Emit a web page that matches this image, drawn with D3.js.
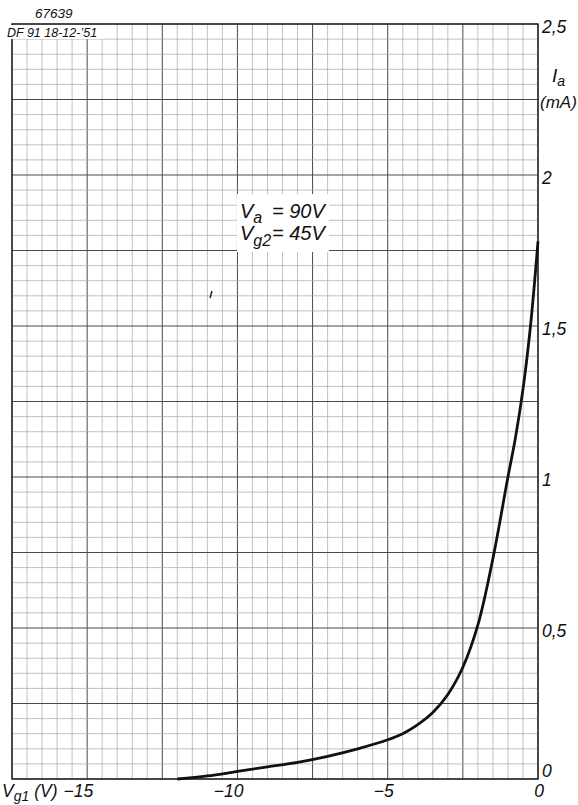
<!DOCTYPE html>
<html>
<head>
<meta charset="utf-8">
<script src="https://cdn.jsdelivr.net/npm/d3@7"></script>
<style>
  body { margin: 0; background: #fff; }
  text { font-family: 'Liberation Sans', 'DejaVu Sans', sans-serif; font-style: italic; fill: #111; }
</style>
</head>
<body>
<div id="chart"></div>
<script>
// curve: grid voltage (V) vs anode current (mA)
const vg1 = [-12, -11, -10, -9, -8, -7, -6, -5, -4.5, -4, -3.5, -3, -2.5, -2, -1.5, -1, -0.75, -0.5, -0.25, 0];
const ia  = [0, 0.01, 0.025, 0.04, 0.055, 0.075, 0.1, 0.13, 0.15, 0.18, 0.22, 0.28, 0.37, 0.51, 0.73, 1.0, 1.13, 1.29, 1.5, 1.78];

const xTicks = [-15, -10, -5, 0];
const xTickLabels = ['\u221215', '\u221210', '\u22125', '0'];
const yTicks = [0, 0.5, 1, 1.5, 2, 2.5];
const yTickLabels = ['0', '0,5', '1', '1,5', '2', '2,5'];

const width = 578;
const height = 805;
const margin = { top: 24, right: 40, bottom: 26, left: 12 };

const svg = d3.select('#chart')
  .append('svg')
  .attr('width', width)
  .attr('height', height);

const x = d3.scaleLinear()
  .domain([-17.5, 0])
  .range([margin.left, width - margin.right]);

const y = d3.scaleLinear()
  .domain([0, 2.5])
  .range([height - margin.bottom, margin.top]);

// graph paper: fine lines every 0.5 V / 0.05 mA, heavier every 2.5 V / 0.25 mA
const vLines = d3.range(-17.5, 0.001, 0.5);
const hLines = d3.range(0, 2.501, 0.05);
const isMajor = (v, step) => Math.abs(v / step - Math.round(v / step)) < 1e-6;

const grid = svg.append('g');
grid.selectAll('line.v')
  .data(vLines)
  .join('line')
  .attr('x1', d => x(d)).attr('x2', d => x(d))
  .attr('y1', y(0)).attr('y2', y(2.5))
  .attr('stroke', d => isMajor(d, 2.5) ? '#4a4a4a' : '#a6a6a6')
  .attr('stroke-width', d => isMajor(d, 2.5) ? 1 : 0.7);

grid.selectAll('line.h')
  .data(hLines)
  .join('line')
  .attr('x1', x(-17.5)).attr('x2', x(0))
  .attr('y1', d => y(d)).attr('y2', d => y(d))
  .attr('stroke', d => isMajor(d, 0.25) ? '#4a4a4a' : '#a6a6a6')
  .attr('stroke-width', d => isMajor(d, 0.25) ? 1 : 0.7);

// frame
svg.append('rect')
  .attr('x', x(-17.5)).attr('y', y(2.5))
  .attr('width', x(0) - x(-17.5)).attr('height', y(0) - y(2.5))
  .attr('fill', 'none')
  .attr('stroke', '#222')
  .attr('stroke-width', 1.4);

// stamp top left
svg.append('text')
  .attr('x', 35).attr('y', 18)
  .style('font-size', '13.5px')
  .text('67639');

svg.append('rect')
  .attr('x', x(-17.5) - 4).attr('y', y(2.5) + 1)
  .attr('width', 96).attr('height', 14)
  .attr('fill', '#fff');
svg.append('text')
  .attr('x', 7).attr('y', 37)
  .style('font-size', '12.5px')
  .text("DF 91  18-12-\u201951");

// operating conditions
svg.append('rect')
  .attr('x', 237).attr('y', 194)
  .attr('width', 92).attr('height', 58)
  .attr('fill', '#fff');

const cond = svg.append('g').style('font-size', '20px');
const t1 = cond.append('text').attr('x', 240).attr('y', 218);
t1.append('tspan').text('V');
t1.append('tspan').attr('dy', 5).style('font-size', '16px').text('a');
t1.append('tspan').attr('x', 272).attr('y', 218).text('= 90V');
const t2 = cond.append('text').attr('x', 240).attr('y', 240);
t2.append('tspan').text('V');
t2.append('tspan').attr('dy', 6).style('font-size', '16px').text('g2');
t2.append('tspan').attr('x', 272).attr('y', 240).text('= 45V');

// stray mark on the sheet
svg.append('line')
  .attr('x1', 210).attr('y1', 298).attr('x2', 212).attr('y2', 291)
  .attr('stroke', '#333').attr('stroke-width', 1.6);

// characteristic
const line = d3.line()
  .x((d, i) => x(vg1[i]))
  .y(d => y(d))
  .curve(d3.curveCatmullRom.alpha(0.5));

svg.append('path')
  .datum(ia)
  .attr('d', line)
  .attr('fill', 'none')
  .attr('stroke', '#111')
  .attr('stroke-width', 2.8);

// right side scale (the zero sits just above the axis)
svg.append('g')
  .selectAll('text')
  .data(yTicks)
  .join('text')
  .attr('x', x(0) + 4)
  .attr('y', d => d === 0 ? y(d) - 8 : y(d) + 3)
  .attr('dy', '0.35em')
  .style('font-size', '17.5px')
  .text((d, i) => yTickLabels[i]);

const ial = svg.append('text').attr('x', 552).attr('y', 82).style('font-size', '19px');
ial.append('tspan').text('I');
ial.append('tspan').attr('dy', 4).style('font-size', '14px').text('a');
svg.append('text')
  .attr('x', 540).attr('y', 108)
  .style('font-size', '17px')
  .text('(mA)');

// bottom scale
svg.append('g')
  .selectAll('text')
  .data(xTicks)
  .join('text')
  .attr('x', d => x(d) + 6)
  .attr('y', 797)
  .attr('text-anchor', 'end')
  .style('font-size', '17.5px')
  .text((d, i) => xTickLabels[i]);

const xl = svg.append('text').attr('x', 2).attr('y', 797).style('font-size', '17.5px');
xl.append('tspan').text('V');
xl.append('tspan').attr('dy', 4).style('font-size', '14px').text('g1');
xl.append('tspan').attr('dy', -4).text(' (V)');
</script>
</body>
</html>
